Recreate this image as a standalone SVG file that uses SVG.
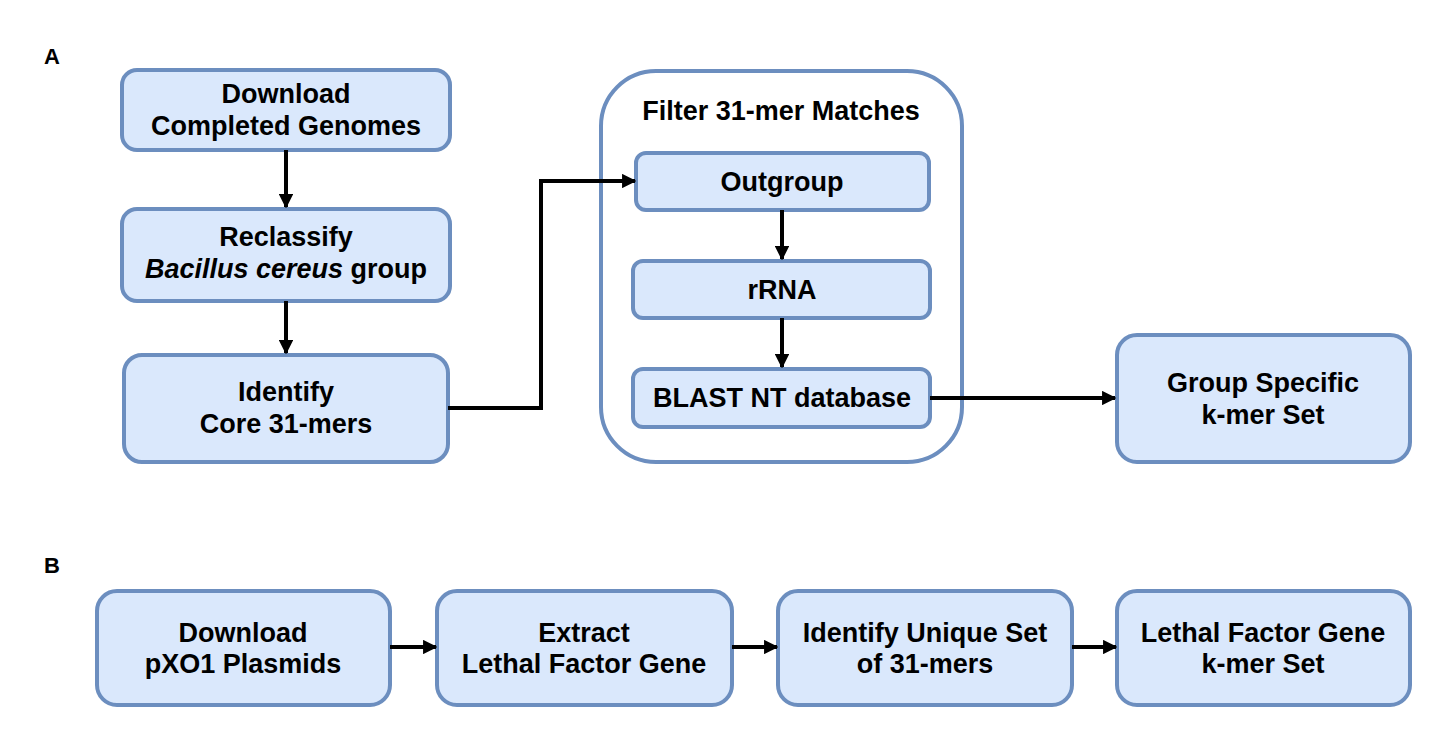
<svg xmlns="http://www.w3.org/2000/svg" width="1440" height="736" viewBox="0 0 1440 736">
<defs>
<style>
.box{fill:#dae8fc;stroke:#6c8ebf;stroke-width:4}
.cont{fill:#ffffff;stroke:#6c8ebf;stroke-width:4}
.t{font-family:"Liberation Sans",Arial,sans-serif;font-weight:bold;font-size:27px;fill:#000;text-anchor:middle}
.lbl{font-family:"Liberation Sans",Arial,sans-serif;font-weight:bold;font-size:22px;fill:#000}
.c{fill:none;stroke:#000;stroke-width:4}
</style>
<marker id="ah" viewBox="0 0 10 10" refX="9" refY="5" markerWidth="3.6" markerHeight="3.6" orient="auto" markerUnits="strokeWidth">
<path d="M0,0 L10,5 L0,10 z" fill="#000"/>
</marker>
</defs>
<rect width="1440" height="736" fill="#ffffff"/>
<text class="lbl" x="44" y="64">A</text>
<text class="lbl" x="44" y="573">B</text>

<g id="filter-container">
<rect class="cont" x="601" y="71" width="361" height="391" rx="55"/>
<text class="t" x="781" y="120">Filter 31-mer Matches</text>
</g>

<g id="a1">
<rect class="box" x="122" y="70" width="328" height="80" rx="15"/>
<text class="t" x="286" y="103">Download</text>
<text class="t" x="286" y="135">Completed Genomes</text>
</g>
<g id="a2">
<rect class="box" x="122" y="209" width="328" height="92" rx="15"/>
<text class="t" x="286" y="246">Reclassify</text>
<text class="t" x="286" y="278"><tspan font-style="italic">Bacillus cereus</tspan> group</text>
</g>
<g id="a3">
<rect class="box" x="124" y="355" width="324" height="107" rx="18"/>
<text class="t" x="286" y="401">Identify</text>
<text class="t" x="286" y="433">Core 31-mers</text>
</g>
<g id="outgroup">
<rect class="box" x="636" y="153" width="293" height="57" rx="10"/>
<text class="t" x="782" y="191">Outgroup</text>
</g>
<g id="rrna">
<rect class="box" x="633" y="261" width="297" height="57" rx="10"/>
<text class="t" x="782" y="299">rRNA</text>
</g>
<g id="blast">
<rect class="box" x="633" y="369" width="297" height="58" rx="10"/>
<text class="t" x="782" y="407">BLAST NT database</text>
</g>
<g id="group-specific">
<rect class="box" x="1117" y="335" width="293" height="127" rx="20"/>
<text class="t" x="1263" y="392">Group Specific</text>
<text class="t" x="1263" y="424">k-mer Set</text>
</g>

<g id="b1">
<rect class="box" x="97" y="591" width="293" height="114" rx="20"/>
<text class="t" x="243" y="642">Download</text>
<text class="t" x="243" y="673">pXO1 Plasmids</text>
</g>
<g id="b2">
<rect class="box" x="437" y="591" width="295" height="114" rx="20"/>
<text class="t" x="584" y="642">Extract</text>
<text class="t" x="584" y="673">Lethal Factor Gene</text>
</g>
<g id="b3">
<rect class="box" x="778" y="591" width="294" height="114" rx="20"/>
<text class="t" x="925" y="642">Identify Unique Set</text>
<text class="t" x="925" y="673">of 31-mers</text>
</g>
<g id="b4">
<rect class="box" x="1117" y="591" width="293" height="114" rx="20"/>
<text class="t" x="1263" y="642">Lethal Factor Gene</text>
<text class="t" x="1263" y="673">k-mer Set</text>
</g>

<g id="connectors">
<path class="c" d="M286,150 L286,207" marker-end="url(#ah)"/>
<path class="c" d="M286,301 L286,353" marker-end="url(#ah)"/>
<path class="c" d="M448,408 L541,408 L541,181 L635,181" marker-end="url(#ah)"/>
<path class="c" d="M782,210 L782,259" marker-end="url(#ah)"/>
<path class="c" d="M782,318 L782,367" marker-end="url(#ah)"/>
<path class="c" d="M930,398 L1115,398" marker-end="url(#ah)"/>
<path class="c" d="M390,647 L436,647" marker-end="url(#ah)"/>
<path class="c" d="M732,647 L777,647" marker-end="url(#ah)"/>
<path class="c" d="M1072,647 L1116,647" marker-end="url(#ah)"/>
</g>
</svg>
